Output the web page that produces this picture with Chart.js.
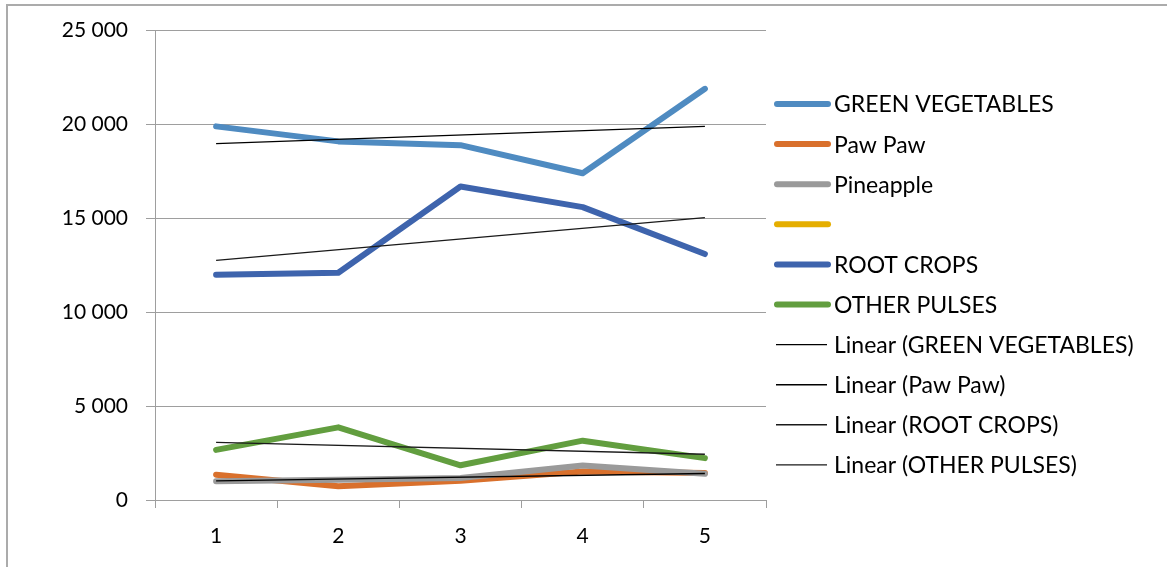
<!DOCTYPE html>
<html>
<head>
<meta charset="utf-8">
<script src="https://cdn.jsdelivr.net/npm/chart.js@4.4.1/dist/chart.umd.min.js"></script>
<style>
  html, body { margin: 0; padding: 0; background: #ffffff; }
  #wrap { width: 1167px; height: 567px; position: relative; }
</style>
</head>
<body>
<div id="wrap"><canvas id="chart" width="1167" height="567"></canvas></div>
<script>
// Categories on the x axis
const categories = ['1', '2', '3', '4', '5'];

// Production series
const greenVegetables = [19900, 19100, 18900, 17400, 21900];
const pawPaw          = [1350, 730, 1030, 1520, 1440];
const pineapple       = [1000, 1080, 1170, 1840, 1400];
const unnamedSeries   = [null, null, null, null, null];
const rootCrops       = [12000, 12100, 16700, 15600, 13100];
const otherPulses     = [2670, 3870, 1850, 3160, 2230];

// Linear trend lines: values at the first and last category
const trendGreenVegetables = [18980, null, null, null, 19900];
const trendPawPaw          = [1020, null, null, null, 1410];
const trendRootCrops       = [12760, null, null, null, 15040];
const trendOtherPulses     = [3070, null, null, null, 2440];

// Value axis
const yMin = 0;
const yMax = 25000;
const yStep = 5000;

const FONT = 'Lato';
const GRID = '#9e9e9e';

function thick(label, data, color) {
  return {
    label, data,
    borderColor: color, backgroundColor: color,
    borderWidth: 6, borderCapStyle: 'round', borderJoinStyle: 'round',
    pointRadius: 0, pointHoverRadius: 0, tension: 0, fill: false
  };
}
function trend(label, data, color) {
  return {
    label, data,
    borderColor: color, backgroundColor: color,
    borderWidth: 1.4, pointRadius: 0, pointHoverRadius: 0,
    spanGaps: true, tension: 0, fill: false
  };
}

const datasets = [
  thick('GREEN VEGETABLES', greenVegetables, '#4f8bc1'),
  thick('Paw Paw', pawPaw, '#d9702c'),
  thick('Pineapple', pineapple, '#9a9a9a'),
  thick('', unnamedSeries, '#e5ae00'),
  thick('ROOT CROPS', rootCrops, '#3e64ad'),
  thick('OTHER PULSES', otherPulses, '#629e3f'),
  trend('Linear (GREEN VEGETABLES)', trendGreenVegetables, '#000000'),
  trend('Linear (Paw Paw)', trendPawPaw, '#000000'),
  trend('Linear (ROOT CROPS)', trendRootCrops, '#1a1a1a'),
  trend('Linear (OTHER PULSES)', trendOtherPulses, '#1a1a1a')
];
// later series are painted over earlier ones
datasets.forEach((d, i) => { d.order = datasets.length - i; });

// Frame lines along the top and left edges
const framePlugin = {
  id: 'frame',
  beforeDraw(chart) {
    const ctx = chart.ctx;
    ctx.save();
    ctx.strokeStyle = '#ababab';
    ctx.lineWidth = 2;
    ctx.beginPath();
    ctx.moveTo(7, 567);
    ctx.lineTo(7, 5);
    ctx.lineTo(1167, 5);
    ctx.stroke();
    ctx.restore();
  }
};

// Legend listed down the right side
const sideLegend = {
  id: 'sideLegend',
  afterDraw(chart, args, opts) {
    const ctx = chart.ctx;
    ctx.save();
    ctx.font = opts.fontSize + 'px ' + FONT;
    ctx.textBaseline = 'middle';
    ctx.textAlign = 'left';
    chart.data.datasets.forEach((ds, i) => {
      const y = opts.top + i * opts.pitch;
      const isThick = ds.borderWidth > 2;
      ctx.beginPath();
      ctx.strokeStyle = ds.borderColor;
      ctx.lineWidth = ds.borderWidth;
      ctx.lineCap = isThick ? 'round' : 'butt';
      ctx.moveTo(isThick ? opts.x0 + 1 : opts.x0, y);
      ctx.lineTo(isThick ? opts.x1 : opts.x1 - 1, y);
      ctx.stroke();
      ctx.fillStyle = '#000000';
      ctx.fillText(ds.label, opts.textX, y + 1);
    });
    ctx.restore();
  }
};

function spaced(v) {
  return String(v).replace(/\B(?=(\d{3})+(?!\d))/g, ' ');
}

new Chart(document.getElementById('chart'), {
  type: 'line',
  data: { labels: categories, datasets },
  plugins: [framePlugin, sideLegend],
  options: {
    responsive: false,
    devicePixelRatio: 1,
    animation: false,
    layout: { padding: { left: 0, top: 30, right: 401, bottom: 0 } },
    plugins: {
      legend: { display: false },
      tooltip: { enabled: false },
      sideLegend: { top: 104, pitch: 40.1, x0: 776, x1: 828, textX: 834, fontSize: 23 }
    },
    scales: {
      x: {
        offset: true,
        grid: { offset: true, drawOnChartArea: false, drawTicks: true, tickLength: 8, color: GRID },
        border: { display: true, color: GRID, width: 1 },
        ticks: { padding: 16, color: '#000000', font: { family: FONT, size: 21 } },
        afterFit(s) { s.height = 67; }
      },
      y: {
        min: yMin, max: yMax,
        grid: { color: GRID, tickLength: 9, drawTicks: true },
        border: { display: true, color: GRID, width: 1 },
        ticks: {
          stepSize: yStep, padding: 18, color: '#000000',
          font: { family: FONT, size: 21 },
          callback: v => spaced(v)
        },
        afterFit(s) { s.width = 155; }
      }
    }
  }
});
</script>
</body>
</html>
